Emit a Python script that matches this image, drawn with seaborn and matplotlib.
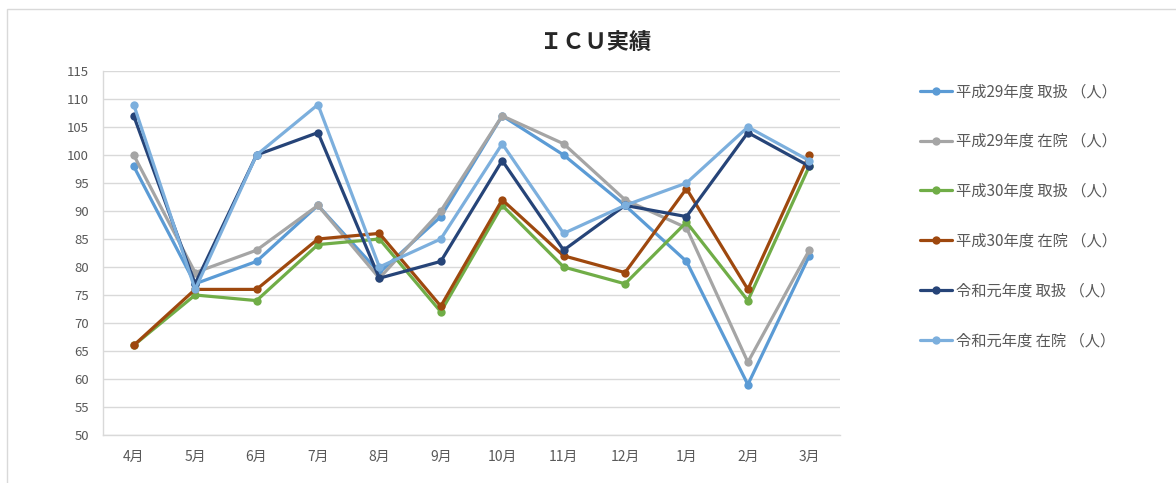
import numpy as np
import pandas as pd
import matplotlib
matplotlib.use("Agg")
import matplotlib.pyplot as plt
from matplotlib.patches import Rectangle
import seaborn as sns

# ICU実績 data
months = ["4月", "5月", "6月", "7月", "8月", "9月", "10月", "11月", "12月", "1月", "2月", "3月"]
h29_toriatsukai = [98, 77, 81, 91, 79, 89, 107, 100, 91, 81, 59, 82]
h29_zaiin = [100, 79, 83, 91, 78, 90, 107, 102, 92, 87, 63, 83]
h30_toriatsukai = [66, 75, 74, 84, 85, 72, 91, 80, 77, 88, 74, 98]
h30_zaiin = [66, 76, 76, 85, 86, 73, 92, 82, 79, 94, 76, 100]
r1_toriatsukai = [107, 77, 100, 104, 78, 81, 99, 83, 91, 89, 104, 98]
r1_zaiin = [109, 76, 100, 109, 80, 85, 102, 86, 91, 95, 105, 99]

series_names = [
    "平成29年度 取扱 （人）",
    "平成29年度 在院 （人）",
    "平成30年度 取扱 （人）",
    "平成30年度 在院 （人）",
    "令和元年度 取扱 （人）",
    "令和元年度 在院 （人）",
]
series_values = [h29_toriatsukai, h29_zaiin, h30_toriatsukai, h30_zaiin, r1_toriatsukai, r1_zaiin]
colors = ["#5B9BD5", "#A5A5A5", "#70AD47", "#9E480E", "#264478", "#7CAFDD"]

rows = []
for name, vals in zip(series_names, series_values):
    for i, (m, v) in enumerate(zip(months, vals)):
        rows.append({"月": m, "pos": i, "series": name, "人数": v})
df = pd.DataFrame(rows)

sns.set_theme(style="white")
plt.rcParams["font.family"] = ["Noto Sans CJK JP", "DejaVu Sans"]

text_color = "#595959"
grid_color = "#D9D9D9"

fig = plt.figure(figsize=(11.76, 4.83), dpi=100)
ax = fig.add_axes([103 / 1176, 1 - 435 / 483, (840 - 103) / 1176, (435 - 71) / 483])

sns.lineplot(
    data=df, x="pos", y="人数", hue="series", hue_order=series_names,
    palette=colors, marker="o", markersize=6, markeredgewidth=0,
    linewidth=2.3, ax=ax, legend=True, sort=False,
)

ax.set_xlim(-0.5, 11.5)
ax.set_ylim(50, 115)
ax.set_yticks(np.arange(50, 116, 5))
ax.set_xticks(range(len(months)))
ax.set_xticklabels(months)
ax.set_xticks(np.arange(-0.5, 12, 1), minor=True)
ax.tick_params(axis="x", which="major", length=0, pad=11, labelsize=10, labelcolor=text_color)
ax.tick_params(axis="x", which="minor", length=5, width=1, color=grid_color, direction="out")
ax.tick_params(axis="y", which="major", length=5, width=1, color=grid_color, direction="out",
               pad=5, labelsize=9.5, labelcolor=text_color)
ax.yaxis.grid(True, color=grid_color, linewidth=1)
ax.set_axisbelow(True)
ax.set_xlabel("")
ax.set_ylabel("")
for side in ["top", "right"]:
    ax.spines[side].set_visible(False)
for side in ["left", "bottom"]:
    ax.spines[side].set_color(grid_color)
    ax.spines[side].set_linewidth(1)

handles, labels = ax.get_legend_handles_labels()
ax.legend(
    handles, labels, loc="upper left", bbox_to_anchor=(914 / 1176, 1 - 77 / 483),
    bbox_transform=fig.transFigure, frameon=False, fontsize=11,
    labelcolor=text_color, handlelength=2.1, handletextpad=0.25,
    labelspacing=2.15, borderaxespad=0,
)

fig.text(596 / 1176, 1 - 43 / 483, "ＩＣＵ実績", ha="center", va="center",
         fontsize=16, fontweight="bold", color="#262626")

# chart area frame
fig.patches.append(Rectangle((7 / 1176, -0.1), 1.2, 1 - 9 / 483 + 0.1,
                             transform=fig.transFigure, fill=False,
                             edgecolor="#D9D9D9", linewidth=1))

fig.savefig("out.png", dpi=100)
plt.close(fig)
